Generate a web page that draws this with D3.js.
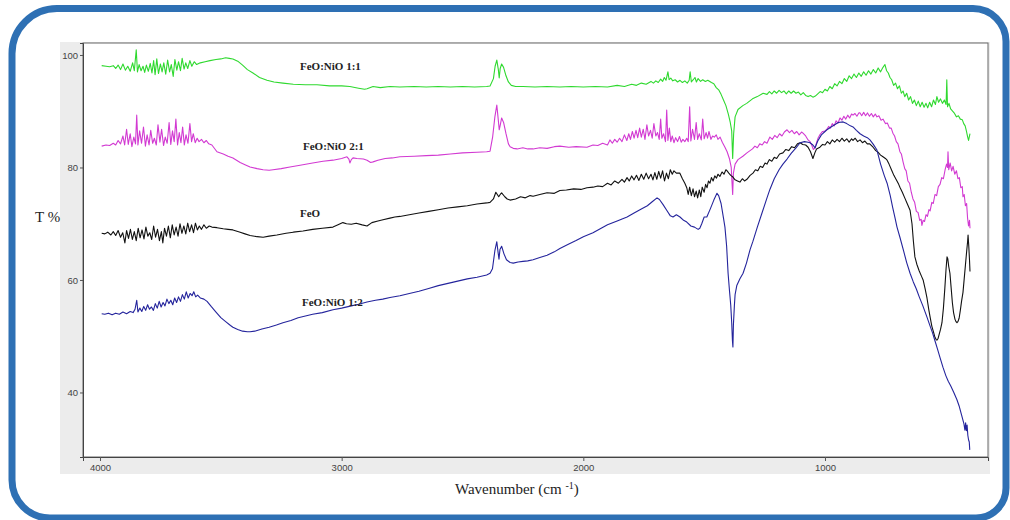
<!DOCTYPE html>
<html>
<head>
<meta charset="utf-8">
<script src="https://cdnjs.cloudflare.com/ajax/libs/d3/7.8.5/d3.min.js"></script>
<style>
  body { margin: 0; background: #fff; }
  svg { display: block; }
</style>
</head>
<body>
<div class="ftir"></div>
<script>
// wavenumber (cm-1), transmittance (%)
var xTicks = [4000, 3000, 2000, 1000],
  yTicks = [40, 60, 80, 100];

var labels = ["FeO:NiO 1:1", "FeO:NiO 2:1", "FeO", "FeO:NiO 1:2"];

var feoNio11 = [[3993,98.1],[3975,98.0],[3960,97.9],[3945,98.1],[3935,97.6],[3925,98.2],[3915,97.4],[3905,98.4],[3895,97.3],[3885,98.0],[3875,97.1],[3865,98.6],[3858,97.2],[3850,100.9],[3845,97.0],[3838,98.3],[3830,97.2],[3822,98.0],[3815,96.9],[3808,98.2],[3800,97.1],[3792,98.5],[3785,96.8],[3778,99.0],[3772,96.5],[3765,99.3],[3758,96.7],[3750,98.4],[3743,97.0],[3736,98.6],[3728,96.6],[3720,99.1],[3712,97.0],[3705,98.3],[3697,96.2],[3690,99.2],[3682,97.3],[3675,98.8],[3667,97.2],[3660,99.4],[3652,97.5],[3645,98.6],[3637,97.6],[3628,99.0],[3620,98.0],[3610,98.8],[3600,98.3],[3585,98.6],[3565,98.8],[3545,99.0],[3520,99.2],[3500,99.3],[3480,99.5],[3465,99.4],[3450,99.3],[3430,98.9],[3410,98.2],[3390,97.4],[3367,96.8],[3340,96.0],[3309,95.5],[3280,95.2],[3243,95.0],[3200,94.8],[3150,94.7],[3102,94.7],[3050,94.5],[3000,94.5],[2966,94.4],[2930,94.1],[2905,93.9],[2895,94.0],[2870,94.4],[2840,94.2],[2800,94.4],[2759,94.3],[2700,94.4],[2650,94.3],[2600,94.4],[2550,94.3],[2500,94.4],[2450,94.3],[2400,94.4],[2386,94.5],[2372,95.8],[2365,98.0],[2358,99.1],[2352,97.5],[2348,95.9],[2344,97.6],[2338,98.4],[2330,97.8],[2320,96.3],[2310,95.2],[2298,94.6],[2280,94.4],[2250,94.4],[2200,94.3],[2150,94.4],[2097,94.3],[2050,94.4],[2000,94.3],[1950,94.4],[1900,94.3],[1860,94.6],[1830,94.4],[1800,94.8],[1780,94.6],[1760,95.0],[1740,94.8],[1720,95.3],[1710,95.0],[1700,95.4],[1690,95.1],[1680,95.7],[1672,95.3],[1665,96.0],[1658,95.5],[1650,97.0],[1645,95.6],[1638,95.9],[1630,95.4],[1620,95.6],[1610,95.2],[1600,95.5],[1590,95.1],[1580,95.4],[1570,95.0],[1562,95.5],[1558,97.0],[1553,95.2],[1545,95.6],[1538,96.0],[1532,95.2],[1525,95.8],[1515,95.3],[1506,95.6],[1495,95.3],[1485,95.5],[1470,95.1],[1460,94.9],[1450,94.2],[1440,93.8],[1430,93.0],[1420,92.0],[1410,91.0],[1400,89.5],[1392,88.0],[1386,86.5],[1382,81.6],[1378,86.0],[1372,89.0],[1360,90.3],[1340,91.0],[1324,91.4],[1300,92.2],[1280,92.6],[1256,93.2],[1240,93.0],[1230,93.5],[1220,93.1],[1210,93.6],[1200,93.2],[1190,93.7],[1180,93.3],[1170,93.6],[1160,93.1],[1150,93.6],[1140,93.2],[1130,93.6],[1120,93.2],[1110,93.4],[1100,92.9],[1090,93.3],[1080,92.8],[1070,92.6],[1060,92.8],[1050,92.5],[1040,92.7],[1030,93.1],[1020,93.5],[1010,93.3],[1000,93.9],[990,93.6],[980,94.4],[970,94.0],[960,94.9],[950,94.5],[940,95.3],[930,94.9],[920,95.8],[910,95.3],[900,96.3],[890,95.8],[880,96.6],[870,96.0],[860,96.8],[850,96.2],[840,97.0],[830,96.4],[820,97.2],[810,96.6],[800,97.4],[790,96.8],[780,97.7],[770,97.0],[760,97.8],[752,98.3],[745,97.2],[738,96.8],[731,96.0],[724,95.6],[716,94.6],[708,95.0],[700,94.0],[692,94.5],[684,93.2],[677,93.6],[670,92.6],[662,93.2],[654,92.0],[646,92.6],[638,91.4],[630,92.0],[622,91.0],[614,91.8],[606,90.8],[598,91.6],[590,90.7],[582,91.4],[575,90.6],[567,91.6],[559,90.8],[551,92.0],[543,91.2],[537,92.6],[530,91.6],[522,92.2],[514,91.4],[506,92.0],[499,91.2],[496,95.6],[493,90.8],[487,91.4],[480,90.4],[472,90.0],[464,89.6],[456,89.0],[448,89.2],[440,88.6],[432,88.5],[426,87.8],[420,87.4],[415,86.5],[410,85.5],[406,84.8],[402,85.6],[400,86.0]];

var feoNio21 = [[3993,83.8],[3975,84.0],[3960,83.9],[3945,84.3],[3935,84.0],[3925,84.8],[3915,84.2],[3905,85.6],[3898,84.0],[3890,86.8],[3883,84.1],[3875,86.0],[3868,83.7],[3860,85.4],[3853,84.2],[3848,89.3],[3843,84.0],[3836,86.5],[3828,84.3],[3820,87.2],[3812,83.8],[3805,85.8],[3797,84.0],[3790,86.6],[3782,84.3],[3775,85.2],[3767,84.0],[3760,87.6],[3752,84.5],[3745,86.8],[3737,83.9],[3730,85.4],[3722,84.3],[3714,88.0],[3707,84.1],[3700,86.5],[3693,84.6],[3686,88.6],[3679,84.0],[3672,86.2],[3665,84.4],[3658,87.2],[3651,84.0],[3644,85.8],[3636,84.3],[3628,87.8],[3621,84.6],[3614,86.0],[3606,84.4],[3598,85.2],[3590,84.6],[3580,85.0],[3570,84.4],[3560,84.8],[3550,84.2],[3537,84.0],[3516,82.8],[3490,82.4],[3470,82.0],[3450,81.7],[3420,80.9],[3400,80.5],[3379,80.1],[3350,79.8],[3325,79.6],[3300,79.5],[3284,79.6],[3250,79.8],[3214,80.1],[3172,80.4],[3120,80.8],[3077,81.1],[3036,81.3],[3000,81.6],[2978,81.9],[2970,81.5],[2966,80.8],[2960,81.4],[2953,81.7],[2937,81.6],[2910,81.5],[2895,81.3],[2880,80.9],[2870,81.0],[2850,81.3],[2820,81.6],[2790,81.7],[2759,81.9],[2700,82.0],[2650,82.1],[2600,82.2],[2550,82.4],[2500,82.6],[2440,82.7],[2400,82.8],[2386,82.9],[2375,85.5],[2366,89.0],[2358,91.1],[2352,88.5],[2348,86.7],[2344,87.5],[2338,88.8],[2330,88.0],[2320,86.0],[2310,84.2],[2303,83.7],[2290,83.4],[2274,83.3],[2250,83.5],[2230,83.3],[2208,83.3],[2180,83.5],[2150,83.4],[2120,83.7],[2097,83.8],[2060,83.6],[2030,83.7],[1985,83.6],[1960,84.0],[1940,83.9],[1920,84.3],[1900,84.0],[1890,84.9],[1880,84.3],[1870,85.0],[1860,84.5],[1850,85.2],[1840,84.6],[1830,85.8],[1820,84.8],[1812,86.0],[1805,85.0],[1797,86.4],[1790,85.2],[1782,86.6],[1775,85.3],[1767,87.0],[1760,85.4],[1752,86.8],[1745,85.0],[1737,87.6],[1730,85.6],[1722,86.6],[1715,85.2],[1708,87.8],[1700,85.6],[1693,86.2],[1686,85.0],[1680,88.6],[1675,85.2],[1668,86.0],[1660,84.6],[1655,90.2],[1650,84.8],[1644,87.0],[1638,84.6],[1632,85.6],[1625,84.4],[1618,85.3],[1610,84.6],[1602,85.5],[1595,84.5],[1588,85.0],[1580,84.6],[1572,85.2],[1566,84.6],[1560,90.8],[1555,84.7],[1548,86.8],[1540,85.0],[1533,88.0],[1527,85.0],[1520,86.0],[1512,84.9],[1506,88.6],[1500,85.1],[1492,86.2],[1486,85.2],[1480,86.4],[1472,85.0],[1465,85.6],[1458,85.4],[1450,85.8],[1443,85.0],[1434,85.4],[1425,84.5],[1414,83.6],[1405,82.8],[1395,81.5],[1388,80.0],[1385,77.5],[1382,75.2],[1379,79.0],[1372,80.6],[1360,81.4],[1340,82.0],[1323,82.6],[1300,83.3],[1290,83.8],[1280,83.5],[1270,84.2],[1260,84.0],[1250,84.6],[1240,84.3],[1228,85.4],[1218,85.0],[1208,85.7],[1198,85.3],[1188,86.0],[1178,85.6],[1168,86.3],[1157,86.7],[1147,86.2],[1137,86.6],[1127,86.0],[1117,86.4],[1107,85.8],[1097,86.3],[1091,86.1],[1080,85.6],[1070,84.9],[1062,84.6],[1055,84.0],[1048,83.2],[1041,83.5],[1035,84.4],[1028,85.3],[1020,85.9],[1010,86.4],[1000,86.5],[992,86.8],[985,87.3],[978,87.0],[970,87.8],[962,87.4],[954,88.3],[946,87.9],[938,88.8],[930,88.4],[922,89.1],[914,88.6],[906,89.3],[898,88.8],[890,89.5],[884,89.3],[876,89.6],[868,89.1],[860,89.7],[855,89.7],[848,89.2],[840,89.8],[832,89.2],[824,89.7],[816,89.1],[808,89.6],[800,89.0],[792,89.5],[785,89.0],[777,89.2],[768,88.4],[760,88.6],[750,87.8],[742,87.9],[733,87.0],[726,87.0],[719,86.1],[712,85.6],[705,84.6],[698,84.2],[690,82.8],[684,82.4],[677,81.0],[670,79.8],[664,79.4],[657,77.6],[650,77.2],[643,75.6],[636,74.4],[629,73.8],[622,72.2],[615,72.0],[608,70.6],[602,70.8],[599,69.7],[594,70.6],[588,70.4],[582,71.6],[576,71.3],[570,72.5],[565,72.3],[558,73.8],[552,73.6],[545,75.2],[538,75.0],[531,76.6],[524,77.0],[517,78.2],[510,78.0],[503,79.6],[497,80.6],[493,80.0],[491,82.8],[488,79.6],[482,80.8],[476,79.4],[470,80.2],[463,78.8],[456,79.4],[450,78.0],[444,78.2],[438,76.4],[432,76.6],[429,74.8],[424,75.2],[419,73.2],[414,73.6],[410,71.0],[406,69.6],[402,70.6],[400,69.2]];

var feo = [[3993,68.3],[3980,68.2],[3968,68.5],[3955,68.0],[3945,68.6],[3935,67.9],[3925,68.8],[3915,67.6],[3906,68.4],[3897,66.6],[3890,68.8],[3882,67.4],[3874,69.0],[3866,67.2],[3858,68.6],[3850,67.0],[3842,69.2],[3834,67.5],[3826,68.9],[3818,67.3],[3810,69.4],[3802,67.8],[3794,68.4],[3786,67.2],[3778,69.6],[3770,67.6],[3762,69.0],[3754,67.0],[3746,68.6],[3740,66.6],[3733,69.2],[3725,67.8],[3717,69.6],[3709,67.5],[3701,69.8],[3693,68.0],[3685,69.4],[3677,67.8],[3669,70.0],[3661,68.3],[3653,69.6],[3645,68.2],[3637,70.1],[3629,68.6],[3621,69.8],[3613,68.4],[3605,70.1],[3597,68.9],[3589,69.6],[3580,69.0],[3570,69.8],[3560,69.2],[3548,69.6],[3537,69.4],[3516,69.3],[3490,69.1],[3470,69.0],[3450,68.9],[3420,68.5],[3400,68.2],[3379,67.9],[3350,67.7],[3325,67.6],[3300,67.8],[3268,68.0],[3230,68.3],[3200,68.5],[3160,68.7],[3120,69.0],[3080,69.2],[3036,69.4],[3015,69.8],[2995,70.2],[2980,70.0],[2960,69.9],[2940,70.1],[2915,69.8],[2895,69.6],[2875,70.2],[2850,70.5],[2829,70.7],[2800,71.0],[2780,71.2],[2759,71.3],[2720,71.6],[2680,71.9],[2640,72.2],[2600,72.5],[2560,72.8],[2520,73.0],[2480,73.2],[2440,73.5],[2400,73.7],[2386,73.8],[2372,74.4],[2362,75.6],[2356,75.2],[2350,74.8],[2344,75.2],[2338,75.5],[2325,74.8],[2315,74.4],[2303,74.2],[2280,74.4],[2260,74.8],[2240,74.6],[2220,75.0],[2208,74.9],[2180,75.2],[2150,75.5],[2120,75.4],[2097,75.9],[2070,76.0],[2040,76.2],[2010,76.1],[1985,76.4],[1960,76.5],[1940,76.7],[1920,76.6],[1900,77.2],[1885,76.9],[1870,77.6],[1855,77.2],[1840,77.9],[1830,77.4],[1819,78.2],[1810,77.6],[1800,78.5],[1790,77.8],[1780,78.6],[1770,77.7],[1760,78.8],[1750,77.9],[1740,79.0],[1730,78.0],[1720,78.8],[1712,77.8],[1704,79.1],[1696,77.9],[1688,79.3],[1680,78.1],[1672,79.4],[1664,77.6],[1656,79.0],[1648,78.0],[1640,79.6],[1632,78.8],[1625,79.4],[1615,79.0],[1601,79.0],[1590,78.0],[1580,77.2],[1572,76.4],[1566,75.2],[1560,76.5],[1553,75.0],[1546,76.2],[1540,74.8],[1533,75.8],[1527,74.6],[1520,76.0],[1514,74.8],[1508,76.5],[1500,75.6],[1494,77.0],[1488,76.4],[1482,77.6],[1476,77.2],[1470,78.2],[1463,77.6],[1456,78.5],[1449,78.1],[1443,78.8],[1435,78.4],[1426,79.2],[1418,78.8],[1410,79.6],[1405,79.4],[1398,79.0],[1390,78.6],[1381,78.3],[1372,77.8],[1362,77.6],[1352,77.4],[1342,78.0],[1333,77.6],[1323,77.9],[1310,78.6],[1298,79.0],[1288,79.6],[1278,79.4],[1268,80.2],[1258,80.0],[1248,80.8],[1240,80.6],[1230,81.4],[1220,81.1],[1210,81.8],[1200,81.6],[1188,82.4],[1174,82.6],[1162,83.2],[1150,83.0],[1138,83.7],[1126,83.5],[1114,84.2],[1103,84.4],[1092,84.1],[1080,84.0],[1070,83.6],[1060,82.8],[1050,81.6],[1042,82.6],[1035,83.3],[1021,83.6],[1010,84.1],[1000,84.0],[990,84.6],[980,84.2],[970,84.9],[960,84.5],[950,85.0],[940,84.6],[930,85.2],[920,84.7],[910,85.1],[900,84.5],[890,85.1],[884,84.8],[875,85.2],[865,84.6],[855,84.9],[845,84.4],[835,84.7],[825,84.2],[815,84.2],[801,83.6],[790,83.0],[780,82.7],[770,82.2],[760,81.9],[750,81.6],[743,81.3],[735,80.6],[725,79.6],[715,78.6],[705,77.8],[695,77.0],[690,76.5],[680,75.6],[670,74.6],[660,73.6],[648,72.4],[640,70.0],[634,66.8],[628,64.1],[620,62.8],[610,61.6],[600,60.6],[594,60.0],[586,58.5],[578,56.8],[570,54.6],[565,53.4],[558,51.8],[550,50.6],[545,49.8],[540,49.4],[537,49.3],[532,49.6],[527,50.4],[522,51.2],[516,52.4],[510,55.0],[504,58.6],[499,62.0],[495,64.1],[492,63.8],[488,62.4],[483,61.2],[478,58.6],[473,56.0],[468,54.2],[462,53.0],[458,52.6],[454,52.4],[450,52.6],[445,53.2],[440,54.6],[435,56.2],[429,57.8],[424,60.2],[419,62.6],[414,65.0],[410,66.8],[408,68.0],[405,66.0],[402,63.5],[400,61.5]];

var feoNio12 = [[3993,54.0],[3980,53.9],[3965,54.1],[3950,53.8],[3935,54.1],[3920,53.9],[3905,54.3],[3890,54.0],[3875,54.4],[3863,54.2],[3855,54.8],[3848,56.4],[3843,54.3],[3835,55.0],[3827,54.4],[3819,55.3],[3811,54.6],[3803,55.6],[3795,54.8],[3787,55.2],[3779,54.6],[3771,55.8],[3763,55.0],[3755,56.2],[3747,55.2],[3739,56.0],[3731,55.4],[3723,56.6],[3715,55.8],[3707,56.4],[3699,55.6],[3691,56.8],[3683,56.0],[3675,57.0],[3667,56.2],[3659,57.4],[3651,56.6],[3643,57.9],[3635,56.8],[3627,57.6],[3619,57.2],[3612,57.9],[3604,57.0],[3596,57.3],[3585,56.8],[3570,56.6],[3557,56.2],[3540,55.3],[3520,54.3],[3500,53.3],[3480,52.6],[3460,51.9],[3450,51.6],[3430,51.2],[3410,50.9],[3390,50.8],[3379,50.8],[3360,50.9],[3330,51.3],[3300,51.6],[3270,52.0],[3243,52.4],[3210,52.8],[3180,53.3],[3150,53.6],[3120,53.9],[3080,54.2],[3036,54.7],[3000,55.0],[2960,55.4],[2930,55.7],[2895,56.1],[2860,56.4],[2830,56.6],[2800,56.9],[2759,57.2],[2720,57.6],[2680,58.0],[2640,58.5],[2600,59.0],[2560,59.4],[2520,59.8],[2480,60.2],[2440,60.5],[2400,60.9],[2386,61.2],[2376,62.0],[2366,65.2],[2358,66.8],[2353,65.0],[2349,63.7],[2345,65.4],[2338,66.0],[2328,64.6],[2318,63.6],[2303,63.1],[2290,63.0],[2270,63.2],[2250,63.3],[2230,63.4],[2208,63.6],[2180,64.0],[2150,64.4],[2120,65.0],[2097,65.6],[2060,66.4],[2030,67.0],[2000,67.7],[1960,68.4],[1930,69.1],[1900,69.8],[1860,70.5],[1819,71.2],[1790,71.9],[1760,72.6],[1735,73.2],[1715,73.9],[1695,74.6],[1685,74.3],[1670,73.4],[1655,72.4],[1640,71.4],[1629,71.2],[1615,71.6],[1600,71.2],[1585,70.6],[1572,70.3],[1555,69.6],[1540,69.4],[1525,69.0],[1518,69.2],[1510,70.0],[1500,71.2],[1489,71.2],[1475,72.6],[1460,74.2],[1447,75.4],[1440,75.0],[1430,73.6],[1420,71.0],[1414,69.4],[1407,66.0],[1401,61.2],[1395,58.0],[1390,55.5],[1386,52.4],[1383,49.2],[1381,48.1],[1379,52.0],[1375,55.4],[1372,57.4],[1365,59.0],[1352,60.2],[1339,61.2],[1325,63.0],[1310,65.4],[1298,66.9],[1280,69.4],[1260,72.0],[1240,74.6],[1228,76.1],[1210,78.0],[1190,79.6],[1174,80.6],[1157,81.5],[1140,82.5],[1120,83.5],[1103,84.4],[1085,84.6],[1070,84.5],[1062,84.4],[1050,84.0],[1041,83.5],[1030,84.7],[1015,85.8],[1000,86.4],[992,86.7],[975,87.2],[960,87.6],[945,88.0],[925,88.1],[910,87.8],[895,87.4],[884,87.2],[870,86.6],[855,86.0],[840,85.6],[825,85.3],[814,84.9],[800,84.1],[785,83.1],[770,80.6],[755,78.6],[743,77.2],[730,75.0],[720,72.9],[710,71.0],[702,69.4],[690,67.6],[675,65.2],[662,63.1],[648,61.2],[635,59.7],[622,58.4],[610,57.0],[595,55.4],[578,53.4],[565,51.8],[555,50.6],[545,49.2],[535,47.8],[524,46.2],[512,44.5],[500,43.0],[490,42.0],[480,41.2],[467,40.0],[454,38.7],[445,37.6],[435,36.0],[425,34.4],[421,33.3],[418,34.6],[415,33.2],[412,34.2],[409,32.4],[406,31.6],[403,31.2],[401,29.8]];

var seriesColors = ["#2fd92f", "#d23ad2", "#111111", "#24249c"];

document.addEventListener("DOMContentLoaded", drawChart)

function drawChart() {
  var width = 1010,
    height = 520;

  var svg = d3.select(".ftir").append("svg")
    .attr("width", width)
    .attr("height", height)

  // plot box
  var left = 83, right = 988, top = 43, bottom = 457;

  var x = d3.scaleLinear()
    .domain([4070.3, 325.5])
    .range([left, right])

  var y = d3.scaleLinear()
    .domain([28.53, 102.13])
    .range([bottom, top])

  // grey panel behind the plot
  svg.append("rect")
    .attr("x", 60).attr("y", 42)
    .attr("width", 930).attr("height", 432)
    .attr("fill", "#ececec")

  svg.append("rect")
    .attr("x", left).attr("y", top)
    .attr("width", right - left).attr("height", bottom - top)
    .attr("fill", "#fff")
    .attr("stroke", "#666")
    .attr("stroke-width", 1)

  var yAxis = svg.append("g")
    .attr("transform", `translate(${left},0)`)
    .call(d3.axisLeft(y).tickValues(yTicks).tickFormat(d3.format("d")).tickSize(3).tickPadding(2))
  var xAxis = svg.append("g")
    .attr("transform", `translate(0,${bottom})`)
    .call(d3.axisBottom(x).tickValues(xTicks).tickFormat(d3.format("d")).tickSize(4).tickPadding(3))

  ;[yAxis, xAxis].forEach(function(a) {
    a.select(".domain").attr("stroke", "#444")
    a.selectAll(".tick line").attr("stroke", "#555")
    a.selectAll(".tick text")
      .attr("fill", "#444")
      .style("font-family", "Arial, 'Liberation Sans', sans-serif")
      .style("font-size", "9.5px")
  })

  var line = d3.line()
    .x(function(d) { return x(d[0]) })
    .y(function(d) { return y(d[1]) })

  var all = [feoNio11, feoNio21, feo, feoNio12]

  svg.append("g")
    .attr("class", "spectra")
    .selectAll("path")
    .data(all)
    .enter().append("path")
    .attr("d", line)
    .attr("fill", "none")
    .attr("stroke", function(d, i) { return seriesColors[i] })
    .attr("stroke-width", 1.1)
    .attr("stroke-linejoin", "round")

  // series names
  var labelPos = [[300, 70], [303, 150], [300, 217], [302, 306]]
  svg.append("g")
    .selectAll("text")
    .data(labels)
    .enter().append("text")
    .attr("x", function(d, i) { return labelPos[i][0] })
    .attr("y", function(d, i) { return labelPos[i][1] })
    .text(function(d) { return d })
    .style("font-family", "'Times New Roman', 'Liberation Serif', serif")
    .style("font-weight", "bold")
    .style("font-size", "11px")
    .attr("fill", "#222")

  var serif = "'Times New Roman', 'Liberation Serif', serif"

  svg.append("text")
    .attr("x", 35).attr("y", 222)
    .text("T %")
    .style("font-family", serif)
    .style("font-size", "15px")
    .attr("fill", "#222")

  var xl = svg.append("text")
    .attr("x", 455).attr("y", 494)
    .style("font-family", serif)
    .style("font-size", "15px")
    .attr("fill", "#222")
  xl.append("tspan").text("Wavenumber (cm ")
  xl.append("tspan").text("-1").attr("dy", -5).style("font-size", "10px")
  xl.append("tspan").text(")").attr("dy", 5)

  // rounded blue frame
  var x0 = 12, y0 = 8.5, x1 = 1006, y1 = 518,
    tl = 45, tr = 33, br = 30, bl = 38
  var frame = `M${x0 + tl},${y0} H${x1 - tr} A${tr},${tr} 0 0 1 ${x1},${y0 + tr}` +
    ` V${y1 - br} A${br},${br} 0 0 1 ${x1 - br},${y1}` +
    ` H${x0 + bl} A${bl},${bl} 0 0 1 ${x0},${y1 - bl}` +
    ` V${y0 + tl} A${tl},${tl} 0 0 1 ${x0 + tl},${y0} Z`
  svg.append("path")
    .attr("d", frame)
    .attr("fill", "none")
    .attr("stroke", "#2e70b4")
    .attr("stroke-width", 7)
}
</script>
</body>
</html>
